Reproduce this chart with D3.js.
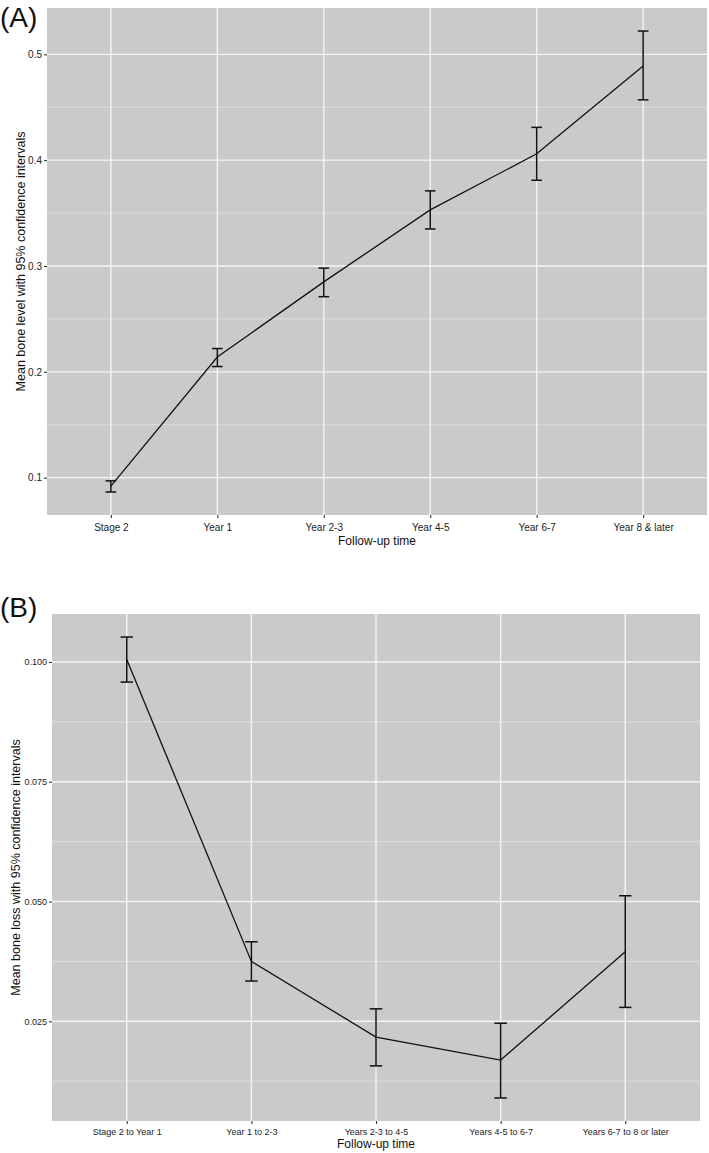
<!DOCTYPE html>
<html>
<head>
<meta charset="utf-8">
<script src="https://cdn.jsdelivr.net/npm/d3@7"></script>
<style>
  html, body { margin: 0; padding: 0; background: #ffffff; }
  svg { display: block; font-family: "Liberation Sans", Arial, sans-serif; }
</style>
</head>
<body>
<svg id="chart" width="709" height="1153"></svg>
<script>
// ---- Panel A data ----
const catsA = ["Stage 2", "Year 1", "Year 2-3", "Year 4-5", "Year 6-7", "Year 8 & later"];
const meanA = [0.092, 0.214, 0.285, 0.353, 0.406, 0.489];
const lowA  = [0.0865, 0.205, 0.271, 0.335, 0.381, 0.457];
const highA = [0.097, 0.222, 0.298, 0.371, 0.431, 0.522];
const ticksA = [0.1, 0.2, 0.3, 0.4, 0.5];
const tickLabelsA = ["0.1", "0.2", "0.3", "0.4", "0.5"];
const minorA = [0.15, 0.25, 0.35, 0.45];

// ---- Panel B data ----
const catsB = ["Stage 2 to Year 1", "Year 1 to 2-3", "Years 2-3 to 4-5", "Years 4-5 to 6-7", "Years 6-7 to 8 or later"];
const meanB = [0.1005, 0.0375, 0.0217, 0.0169, 0.0395];
const lowB  = [0.0958, 0.0334, 0.0157, 0.0090, 0.0279];
const highB = [0.1052, 0.0416, 0.0276, 0.0246, 0.0512];
const ticksB = [0.025, 0.050, 0.075, 0.100];
const tickLabelsB = ["0.025", "0.050", "0.075", "0.100"];
const minorB = [0.0125, 0.0375, 0.0625, 0.0875];

const svg = d3.select("#chart");

function drawPanel(cfg) {
  const { cats, mean, low, high, ticks, tickLabels, minor, box, tag, tagY, yTitle, yTitleX,
          tickFont, tickLabelY, xTitleY } = cfg;
  const g = svg.append("g");

  const lo = d3.min(low), hi = d3.max(high), pad = (hi - lo) * 0.05;
  const y = d3.scaleLinear().domain([lo - pad, hi + pad]).range([box.bottom, box.top]);
  const x = d3.scalePoint().domain(cats).range([box.left, box.right]).padding(0.6);
  const step = x.step();

  // panel background
  g.append("rect")
    .attr("x", box.left).attr("y", box.top)
    .attr("width", box.right - box.left).attr("height", box.bottom - box.top)
    .attr("fill", "#cacaca");

  // minor grid
  g.selectAll(".minor").data(minor).join("line")
    .attr("x1", box.left).attr("x2", box.right)
    .attr("y1", d => y(d)).attr("y2", d => y(d))
    .attr("stroke", "#e2e2e2").attr("stroke-width", 0.8);

  // major grid
  g.selectAll(".majorY").data(ticks).join("line")
    .attr("x1", box.left).attr("x2", box.right)
    .attr("y1", d => y(d)).attr("y2", d => y(d))
    .attr("stroke", "#f4f4f4").attr("stroke-width", 1.4);
  g.selectAll(".majorX").data(cats).join("line")
    .attr("x1", d => x(d)).attr("x2", d => x(d))
    .attr("y1", box.top).attr("y2", box.bottom)
    .attr("stroke", "#f4f4f4").attr("stroke-width", 1.4);

  // y axis
  const yAxis = d3.axisLeft(y).tickValues(ticks)
    .tickFormat((d, i) => tickLabels[i]).tickSize(3).tickPadding(2);
  const ya = g.append("g").attr("transform", `translate(${box.left},0)`).call(yAxis);
  ya.select(".domain").remove();
  ya.selectAll("line").attr("stroke", "#333").attr("stroke-width", 1.1);
  ya.selectAll("text").attr("fill", "#222").attr("font-size", tickFont + "px")
    .attr("font-family", "Liberation Sans, Arial, sans-serif");

  // x axis
  const xAxis = d3.axisBottom(x).tickSize(3).tickPadding(3);
  const xa = g.append("g").attr("transform", `translate(0,${box.bottom})`).call(xAxis);
  xa.select(".domain").remove();
  xa.selectAll("line").attr("stroke", "#333").attr("stroke-width", 1.1);
  xa.selectAll("text").attr("fill", "#222").attr("font-size", tickFont + "px")
    .attr("font-family", "Liberation Sans, Arial, sans-serif")
    .attr("dy", null).attr("y", tickLabelY - box.bottom);

  // line
  const line = d3.line().x((d, i) => x(cats[i])).y(d => y(d));
  g.append("path").datum(mean).attr("d", line)
    .attr("fill", "none").attr("stroke", "#111").attr("stroke-width", 1.3);

  // error bars
  const half = step * 0.05;
  const eb = g.append("g");
  cats.forEach((c, i) => {
    const cx = x(c);
    eb.append("line").attr("x1", cx).attr("x2", cx).attr("y1", y(low[i])).attr("y2", y(high[i]));
    eb.append("line").attr("x1", cx - half).attr("x2", cx + half).attr("y1", y(low[i])).attr("y2", y(low[i]));
    eb.append("line").attr("x1", cx - half).attr("x2", cx + half).attr("y1", y(high[i])).attr("y2", y(high[i]));
  });
  eb.selectAll("line").attr("stroke", "#111").attr("stroke-width", 1.5);

  // axis titles
  g.append("text")
    .attr("x", (box.left + box.right) / 2).attr("y", xTitleY)
    .attr("text-anchor", "middle").attr("font-size", "12px").attr("fill", "#111")
    .text("Follow-up time");
  g.append("text")
    .attr("transform", `translate(${yTitleX},${(box.top + box.bottom) / 2}) rotate(-90)`)
    .attr("text-anchor", "middle").attr("font-size", "12.5px").attr("fill", "#111")
    .text(yTitle);

  // panel tag
  g.append("text").attr("x", 0).attr("y", tagY)
    .attr("font-size", "28px").attr("fill", "#111").text(tag);
}

drawPanel({
  cats: catsA, mean: meanA, low: lowA, high: highA,
  ticks: ticksA, tickLabels: tickLabelsA, minor: minorA,
  box: { left: 47, right: 707, top: 8, bottom: 515 },
  tag: "(A)", tagY: 27,
  yTitle: "Mean bone level with 95% confidence intervals", yTitleX: 24.5,
  tickFont: 10, tickLabelY: 531, xTitleY: 545
});

drawPanel({
  cats: catsB, mean: meanB, low: lowB, high: highB,
  ticks: ticksB, tickLabels: tickLabelsB, minor: minorB,
  box: { left: 52, right: 700, top: 614, bottom: 1121 },
  tag: "(B)", tagY: 617,
  yTitle: "Mean bone loss with 95% confidence intervals", yTitleX: 19.5,
  tickFont: 9, tickLabelY: 1135, xTitleY: 1148
});
</script>
</body>
</html>
